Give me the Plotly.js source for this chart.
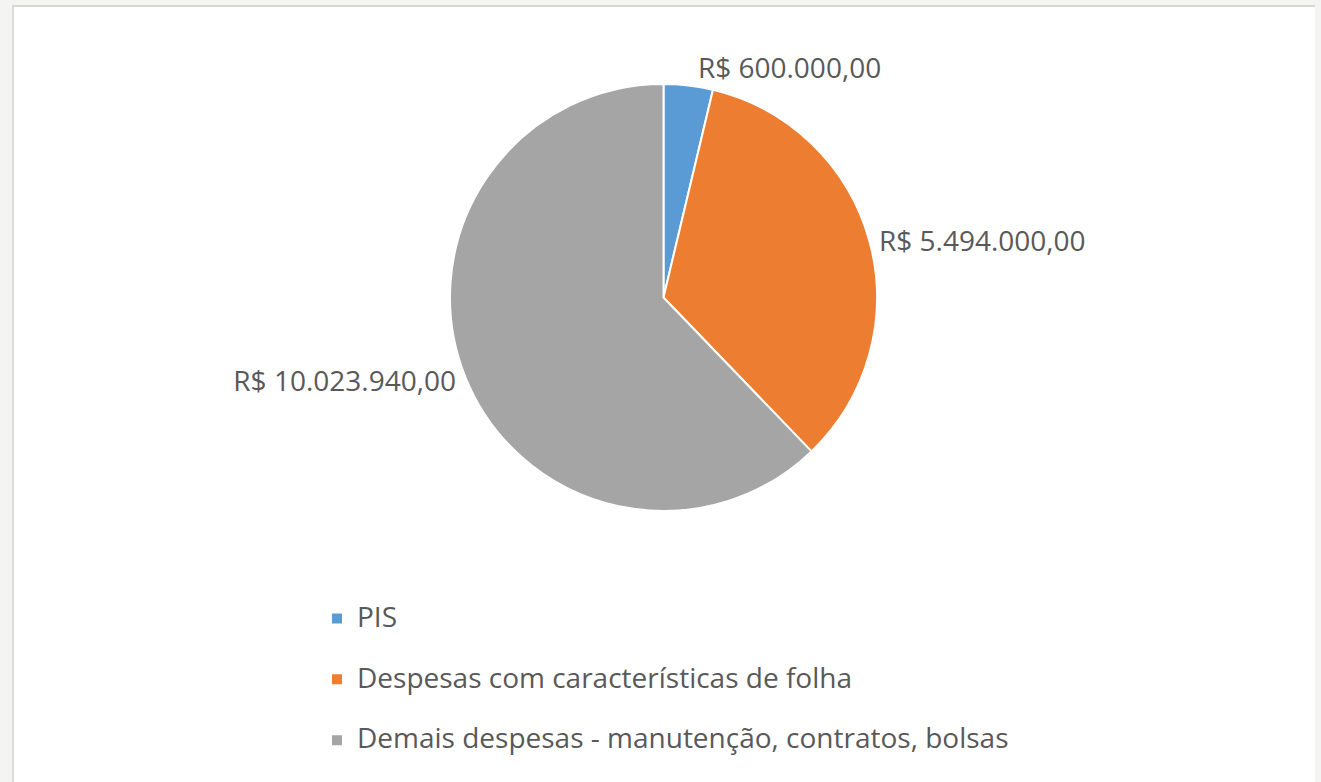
<!DOCTYPE html>
<html>
<head>
<meta charset="utf-8">
<script src="https://cdn.plot.ly/plotly-3.0.1.min.js"></script>
<style>
  html, body { margin: 0; padding: 0; background: #f4f4f2; width: 1321px; height: 782px; overflow: hidden; }
  #panel { position: absolute; left: 12px; top: 5px; width: 1301px; height: 777px; background: #ffffff;
           border-top: 2px solid #d6d6d6; border-left: 2px solid #dcdcdc; }
  #chart { position: absolute; left: 0; top: 0; width: 1321px; height: 782px; }
</style>
</head>
<body>
<div id="panel"></div>
<div id="chart"></div>
<script>
const categories = [
  "PIS",
  "Despesas com características de folha",
  "Demais despesas - manutenção, contratos, bolsas"
];
const values = [600000.00, 5494000.00, 10023940.00];
const colors = ["#5B9BD5", "#ED7D31", "#A5A5A5"];

const W = 1321, H = 782;
const cx = 663.5, cy = 297.5, r = 213.5;
const legendLabels = categories.map(c => '<span style="font-size:28px;baseline-shift:9px">' + c + '</span>');

const trace = {
  type: "pie",
  labels: legendLabels,
  values: values,
  sort: false,
  direction: "clockwise",
  rotation: 0,
  marker: { colors: colors, line: { color: "#ffffff", width: 2 } },
  textposition: "outside",
  texttemplate: "R$ %{value:,.2f}",
  textfont: { family: "Open Sans, sans-serif", size: 28, color: "#595959" },
  outsidetextfont: { family: "Open Sans, sans-serif", size: 28, color: "#595959" },
  domain: { x: [(cx - r) / W, (cx + r) / W], y: [1 - (cy + r) / H, 1 - (cy - r) / H] },
  hoverinfo: "none"
};

const layout = {
  width: W, height: H,
  margin: { l: 0, r: 0, t: 0, b: 0 },
  paper_bgcolor: "rgba(0,0,0,0)",
  plot_bgcolor: "rgba(0,0,0,0)",
  separators: ",.",
  showlegend: true,
  legend: {
    x: 317 / W, xanchor: "left",
    y: 1 - 583 / H, yanchor: "top",
    orientation: "v",
    font: { family: "Open Sans, sans-serif", size: 44.5, color: "#595959" },
    bgcolor: "rgba(0,0,0,0)",
    itemclick: false
  }
};

Plotly.newPlot("chart", [trace], layout, { staticPlot: true, displayModeBar: false });
</script>
</body>
</html>
